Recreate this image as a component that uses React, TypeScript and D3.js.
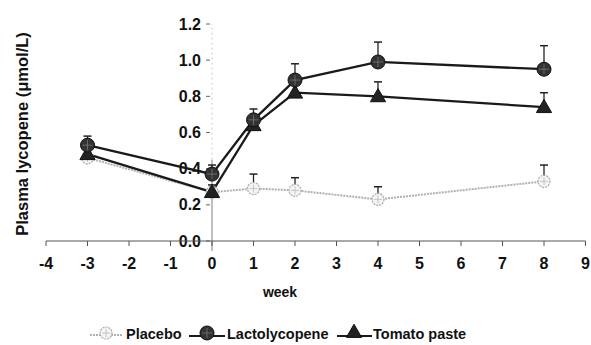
import React from "react";
import * as d3 from "d3";

const weeks = [-3, 0, 1, 2, 4, 8];
const placebo = [0.46, 0.27, 0.29, 0.28, 0.23, 0.33];
const placeboErr = [null, null, 0.08, 0.07, 0.07, 0.09];
const lacto = [0.53, 0.37, 0.67, 0.89, 0.99, 0.95];
const lactoErr = [0.05, 0.05, 0.06, 0.09, 0.11, 0.13];
const tomato = [0.48, 0.27, 0.64, 0.82, 0.80, 0.74];
const tomatoErr = [null, 0.04, null, null, 0.08, 0.08];
const xTicks = [-4, -3, -2, -1, 0, 1, 2, 3, 4, 5, 6, 7, 8, 9];
const yTicks = [0, 0.2, 0.4, 0.6, 0.8, 1.0, 1.2];
const legendLabels = ["Placebo", "Lactolycopene", "Tomato paste"];

const W = 591, H = 345;
const x = d3.scaleLinear().domain([-4, 9]).range([46, 585.5]);
const y = d3.scaleLinear().domain([0, 1.2]).range([241, 24]);
const font = "Arial, 'Liberation Sans', sans-serif";

const line = d3.line<number>().x((_, i) => x(weeks[i])).y((d) => y(d));
const tri = d3.symbol().type(d3.symbolTriangle).size(100)();

function Marker({ kind, cx, cy }: { kind: string; cx: number; cy: number }) {
  if (kind === "placebo") {
    return (
      <g>
        <circle cx={cx} cy={cy} r={6} fill="#f4f4f4" stroke="#aaa" strokeWidth={1.2} strokeDasharray="2,1" />
        <line x1={cx - 4} x2={cx + 4} y1={cy} y2={cy} stroke="#bbb" strokeWidth={0.8} />
        <line x1={cx} x2={cx} y1={cy - 4} y2={cy + 4} stroke="#bbb" strokeWidth={0.8} />
      </g>
    );
  }
  if (kind === "lacto") {
    return (
      <g>
        <circle cx={cx} cy={cy} r={7} fill="#333" stroke="#111" strokeWidth={1} />
        <line x1={cx - 5} x2={cx + 5} y1={cy} y2={cy} stroke="#777" strokeWidth={0.8} />
        <line x1={cx} x2={cx} y1={cy - 5} y2={cy + 5} stroke="#777" strokeWidth={0.8} />
      </g>
    );
  }
  return <path d={tri!} transform={`translate(${cx},${cy + 1})`} fill="#222" stroke="#111" strokeWidth={1} />;
}

function ErrBars({ vals, errs, color }: { vals: number[]; errs: (number | null)[]; color: string }) {
  return (
    <g>
      {vals.map((v, i) =>
        errs[i] == null ? null : (
          <g key={i}>
            <line x1={x(weeks[i])} x2={x(weeks[i])} y1={y(v)} y2={y(v + (errs[i] as number))} stroke={color} strokeWidth={1.3} />
            <line x1={x(weeks[i]) - 4} x2={x(weeks[i]) + 4} y1={y(v + (errs[i] as number))} y2={y(v + (errs[i] as number))} stroke={color} strokeWidth={1.5} />
          </g>
        )
      )}
    </g>
  );
}

export default function App() {
  const x0 = x(0);
  return (
    <svg width={W} height={H} style={{ position: "absolute", left: 0, top: 0 }} fontFamily={font}>
      <rect width={W} height={H} fill="white" />
      {/* y axis */}
      <line x1={x0} x2={x0} y1={y(0) + 10} y2={y(0.45)} stroke="#aaa" strokeWidth={1.5} />
      <line x1={x0} x2={x0} y1={y(0.45)} y2={y(1.2)} stroke="#ccc" strokeWidth={1} strokeDasharray="2,3" />
      {yTicks.map((t) => (
        <g key={t}>
          <line x1={x0 - 6} x2={x0 - 2} y1={y(t)} y2={y(t)} stroke="#666" strokeWidth={1} />
          <text x={201} y={y(t)} dy="0.35em" textAnchor="end" fontSize={16} fontWeight="bold" fill="#111">
            {t.toFixed(1)}
          </text>
        </g>
      ))}
      {/* x axis */}
      <line x1={x(-4)} x2={x(9)} y1={y(0)} y2={y(0)} stroke="#555" strokeWidth={1} />
      {xTicks.map((t) => (
        <g key={t}>
          <line x1={x(t)} x2={x(t)} y1={y(0)} y2={y(0) + 5} stroke="#555" strokeWidth={1} />
          <text x={x(t)} y={263} dy="0.35em" textAnchor="middle" fontSize={16} fontWeight="bold" fill="#111">
            {t}
          </text>
        </g>
      ))}
      <text x={280} y={292} dy="0.35em" textAnchor="middle" fontSize={14} fontWeight="bold" fill="#111">week</text>
      <text transform={`translate(22,134) rotate(-90)`} dy="0.35em" textAnchor="middle" fontSize={16.5} fontWeight="bold" fill="#111">
        Plasma lycopene (μmol/L)
      </text>
      {/* series */}
      <path d={line(placebo)!} fill="none" stroke="#b0b0b0" strokeWidth={2} strokeDasharray="2,1" />
      <path d={line(lacto)!} fill="none" stroke="#1a1a1a" strokeWidth={2.3} />
      <path d={line(tomato)!} fill="none" stroke="#1a1a1a" strokeWidth={2.3} />
      <ErrBars vals={placebo} errs={placeboErr} color="#222" />
      <ErrBars vals={lacto} errs={lactoErr} color="#222" />
      <ErrBars vals={tomato} errs={tomatoErr} color="#222" />
      {placebo.map((v, i) => <Marker key={"p" + i} kind="placebo" cx={x(weeks[i])} cy={y(v)} />)}
      {tomato.map((v, i) => <Marker key={"t" + i} kind="tomato" cx={x(weeks[i])} cy={y(v)} />)}
      {lacto.map((v, i) => <Marker key={"l" + i} kind="lacto" cx={x(weeks[i])} cy={y(v)} />)}
      {/* legend */}
      <g>
        <line x1={90} x2={123} y1={335} y2={335} stroke="#b0b0b0" strokeWidth={2} strokeDasharray="2,1" />
        <Marker kind="placebo" cx={106} cy={333} />
        <text x={126} y={334} dy="0.35em" fontSize={14.5} fontWeight="bold" fill="#111">{legendLabels[0]}</text>
        <line x1={189} x2={225} y1={336} y2={336} stroke="#1a1a1a" strokeWidth={2} />
        <Marker kind="lacto" cx={207} cy={333} />
        <text x={227} y={334} dy="0.35em" fontSize={14.5} fontWeight="bold" fill="#111">{legendLabels[1]}</text>
        <line x1={337} x2={372} y1={336} y2={336} stroke="#1a1a1a" strokeWidth={2} />
        <Marker kind="tomato" cx={354} cy={332} />
        <text x={373} y={334} dy="0.35em" fontSize={14.5} fontWeight="bold" fill="#111">{legendLabels[2]}</text>
      </g>
    </svg>
  );
}
